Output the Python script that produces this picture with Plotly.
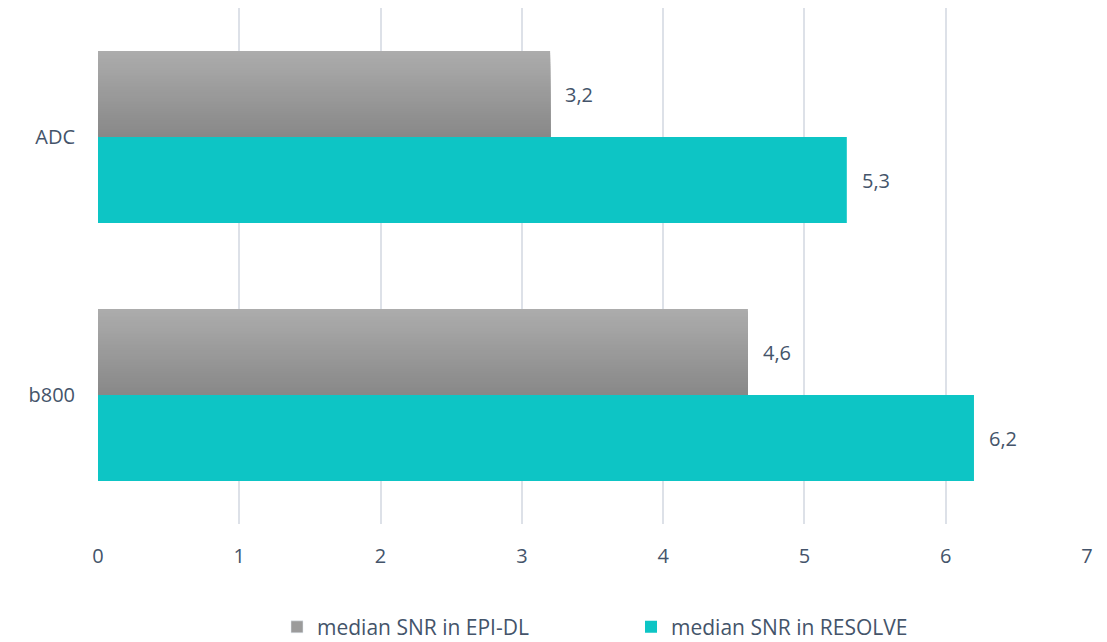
import plotly.graph_objects as go

categories = ["ADC", "b800"]
epi_dl = [3.2, 4.6]
resolve = [5.3, 6.2]
x_ticks = [0, 1, 2, 3, 4, 5, 6, 7]

FONT = "Open Sans, Segoe UI, sans-serif"
TEXT = "#44546A"
TEAL = "#0DC5C5"
GRAY_TOP = (172, 172, 172)
GRAY_BOTTOM = (136, 136, 136)
BAR_H = 1 / 3
N_STRIPS = 40
FS = 20

fig = go.Figure()

# EPI-DL bars: a vertical grey gradient; each strip runs from its top edge
# down to the bar bottom so the later (darker) ones cover the earlier ones
strip_h = BAR_H / N_STRIPS
for i in range(N_STRIPS):
    t = i / (N_STRIPS - 1)
    r, g, b = (round(a + (c - a) * t) for a, c in zip(GRAY_TOP, GRAY_BOTTOM))
    fig.add_trace(go.Bar(
        y=categories, x=epi_dl, orientation="h",
        offset=-BAR_H + i * strip_h, width=BAR_H - i * strip_h,
        marker=dict(color=f"rgb({r},{g},{b})", line=dict(width=0)),
        showlegend=False, hoverinfo="skip",
    ))

# legend entry for EPI-DL
fig.add_trace(go.Bar(
    y=[None], x=[None], orientation="h",
    marker=dict(color="rgb(155,155,155)"),
    name="median SNR in EPI-DL",
))

fig.add_trace(go.Bar(
    y=categories, x=resolve, orientation="h",
    offset=0, width=BAR_H,
    marker=dict(color=TEAL, line=dict(width=0)),
    name="median SNR in RESOLVE",
))

# value labels just past the bar ends
annotations = []
for idx, (cat, v1, v2) in enumerate(zip(categories, epi_dl, resolve)):
    for val, centre in ((v1, idx - BAR_H / 2), (v2, idx + BAR_H / 2)):
        annotations.append(dict(
            x=val, y=centre, xref="x", yref="y",
            text=f"{val:.1f}".replace(".", ","),
            showarrow=False, xanchor="left", yanchor="middle", xshift=13,
            font=dict(family=FONT, size=FS, color=TEXT),
        ))

fig.update_layout(
    width=1107, height=642,
    barmode="overlay",
    separators=", ",
    paper_bgcolor="white", plot_bgcolor="white",
    margin=dict(l=98, r=20, t=8, b=118, autoexpand=False),
    font=dict(family=FONT, size=FS, color=TEXT),
    annotations=annotations,
    legend=dict(
        orientation="h", x=0.181, xanchor="left", y=-0.2, yanchor="middle",
        entrywidth=309, entrywidthmode="pixels",
        font=dict(family=FONT, size=21, color=TEXT),
        itemwidth=30, traceorder="normal",
    ),
    xaxis=dict(
        range=[0, 7], tickvals=x_ticks, showgrid=True,
        gridcolor="#DDE1E8", gridwidth=1.5, zeroline=False,
        showline=False, ticklabelstandoff=18, automargin=False,
        tickfont=dict(family=FONT, size=FS, color=TEXT),
    ),
    yaxis=dict(
        type="category", categoryorder="array", categoryarray=categories,
        autorange="reversed", showgrid=False, zeroline=False, showline=False,
        ticklabelstandoff=22, automargin=False,
        tickfont=dict(family=FONT, size=FS, color=TEXT),
    ),
)

fig.write_html("out.html")
